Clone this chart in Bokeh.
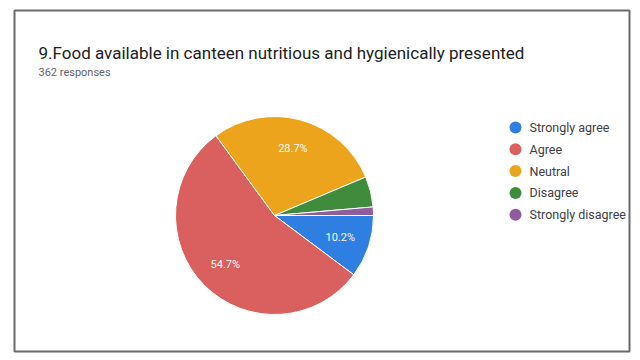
import math
from bokeh.plotting import figure
from bokeh.models import Range1d, ColumnDataSource
from bokeh.core.properties import value
from bokeh.embed import file_html
from bokeh.resources import INLINE

# ---- data ----
categories = ["Strongly agree", "Agree", "Neutral", "Disagree", "Strongly disagree"]
counts = [37, 198, 104, 18, 5]
colors = ["#2f7fe3", "#d9605e", "#eba41c", "#3f8d3c", "#8f5c9f"]
title_text = "9.Food available in canteen nutritious and hygienically presented"
subtitle_text = "362 responses"

FONT = "Roboto"
W, H = 636, 356
ml, mt, mr, mb = 14, 10, W - 629, H - 351
FW, FH = W - ml - mr, H - mt - mb

p = figure(width=W, height=H, output_backend="svg", toolbar_location=None,
           x_range=Range1d(0, FW), y_range=Range1d(0, FH),
           min_border_left=ml, min_border_top=mt, min_border_right=mr, min_border_bottom=mb)
p.axis.visible = False
p.grid.visible = False
p.outline_line_color = "#6a6a6a"
p.outline_line_width = 2
p.background_fill_color = "white"
p.border_fill_color = "white"

def px(x):
    return x - ml
def py(y):
    return (H - mb) - y

# ---- pie ----
cx, cy, R = px(274), py(215), 99
total = sum(counts)
fracs = [c / total for c in counts]
cum = 0.0
starts, ends, lx, ly, labels = [], [], [], [], []
for f in fracs:
    a0 = -cum * 2 * math.pi
    a1 = -(cum + f) * 2 * math.pi
    starts.append(a1)
    ends.append(a0)
    mid = (a0 + a1) / 2
    lx.append(cx + 0.7 * R * math.cos(mid))
    ly.append(cy + 0.7 * R * math.sin(mid))
    labels.append(f"{f*100:.1f}%" if f >= 0.08 else "")
    cum += f

src = ColumnDataSource(dict(cat=categories, start=starts, end=ends, color=colors,
                            lx=lx, ly=ly, label=labels))
p.wedge(x=cx, y=cy, radius=R, start_angle="start", end_angle="end",
        fill_color="color", line_color="white", line_width=1, source=src)
p.text(x="lx", y="ly", text="label", source=src, text_color="#f8f8f8",
       text_font=value(FONT), text_font_size="11px",
       text_align="center", text_baseline="middle")

# ---- title ----
p.text(x=[px(38)], y=[py(52)], text=[title_text], text_font=value(FONT),
       text_font_size="17px", text_color="#202124", text_baseline="alphabetic")
p.text(x=[px(38)], y=[py(72)], text=[subtitle_text], text_font=value(FONT),
       text_font_size="11px", text_color="#5f6368", text_baseline="alphabetic")

# ---- legend ----
leg_y = [py(127 + i * 21.8) for i in range(len(categories))]
lsrc = ColumnDataSource(dict(x=[px(515)] * len(categories), tx=[px(529)] * len(categories),
                             y=leg_y, cat=categories, color=colors))
p.scatter(x="x", y="y", size=12, marker="circle", fill_color="color",
          line_color=None, source=lsrc)
p.text(x="tx", y="y", text="cat", source=lsrc, text_font=value(FONT),
       text_font_size="12.5px", text_color="#3c4043", text_baseline="middle")

open("out.html", "w").write(file_html(p, INLINE))
